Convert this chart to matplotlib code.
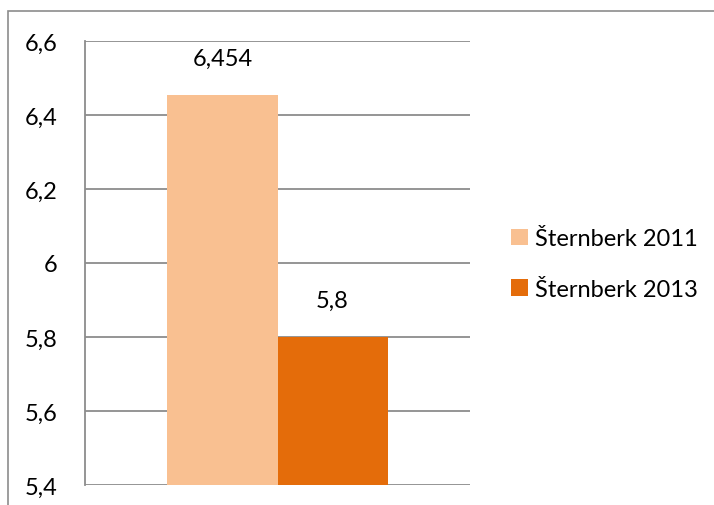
import matplotlib.pyplot as plt
from matplotlib.patches import Rectangle

series = ['Šternberk 2011', 'Šternberk 2013']
values = [6.454, 5.8]
value_labels = ['6,454', '5,8']
colors = ['#F9C091', '#E46C0A']
yticks = [5.4, 5.6, 5.8, 6.0, 6.2, 6.4, 6.6]
ytick_labels = ['5,4', '5,6', '5,8', '6', '6,2', '6,4', '6,6']

plt.rcParams['font.family'] = ['Lato', 'DejaVu Sans']

W, H = 714, 506
fig = plt.figure(figsize=(W / 100, H / 100), dpi=100)

# chart frame, only the left and top edges fall inside the image
fig.patches.append(Rectangle((8 / W, -0.1), 1.2, (H - 12) / H + 0.1,
                             transform=fig.transFigure, fill=False,
                             edgecolor='#8c8c8c', linewidth=1.2))

ax = fig.add_axes([85 / W, 1 - 486 / H, (470 - 85) / W, (486 - 42) / H])

width = 0.286
offsets = [-width / 2, width / 2]
for name, v, lab, c, off in zip(series, values, value_labels, colors, offsets):
    ax.bar(off, v - 5.4, bottom=5.4, width=width, color=c, label=name, zorder=3)
    ax.text(off, v + 0.07, lab, ha='center', va='bottom', fontsize=17)

ax.set_xlim(-0.5, 0.5)
ax.set_ylim(5.4, 6.6)
ax.set_yticks(yticks)
ax.set_yticklabels(ytick_labels, fontsize=17)
ax.set_xticks([])
ax.yaxis.grid(True, color='#8c8c8c', linewidth=1.3, zorder=0)
ax.tick_params(axis='y', length=0, pad=20)
for s in ['top', 'right', 'bottom']:
    ax.spines[s].set_visible(False)
ax.spines['left'].set_color('#8c8c8c')
ax.spines['left'].set_linewidth(1.3)

fig.legend(loc='center left', bbox_to_anchor=(490 / W, 1 - 265 / H),
           frameon=False, fontsize=17, handlelength=0.7, handleheight=0.7,
           handletextpad=0.3, labelspacing=1.25)

fig.savefig('out.png', dpi=100)
